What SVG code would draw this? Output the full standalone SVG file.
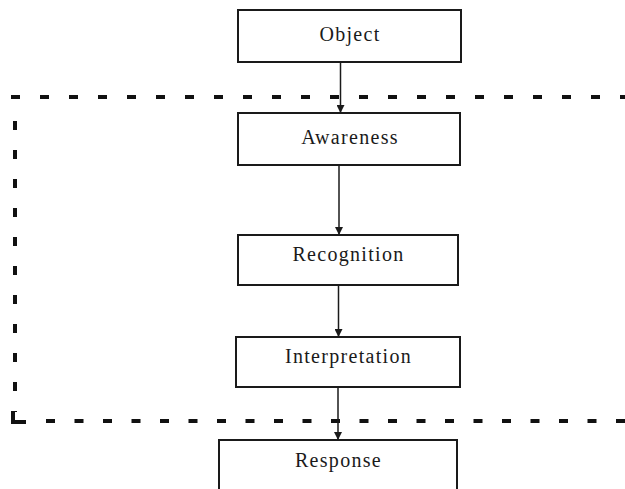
<svg xmlns="http://www.w3.org/2000/svg" width="625" height="489" viewBox="0 0 625 489">
  <style>
    .box { fill: #ffffff; stroke: #1a1a1a; stroke-width: 2; }
    .label { font-family: "Liberation Serif", "DejaVu Serif", serif; font-size: 20px; letter-spacing: 1.3px; fill: #1a1a1a; text-anchor: middle; }
    .edge { stroke: #1a1a1a; stroke-width: 1.5; fill: none; marker-end: url(#arrow); }
    .boundary { stroke: #111111; stroke-width: 4; fill: none; stroke-dasharray: 9 20; }
  </style>
  <defs>
    <marker id="arrow" viewBox="0 0 8 8" refX="8" refY="4" markerWidth="8" markerHeight="8" markerUnits="userSpaceOnUse" orient="auto">
      <path d="M0,0 L8,4 L0,8 Z" fill="#1a1a1a"/>
    </marker>
  </defs>
  <rect width="625" height="489" fill="#ffffff"/>

  <!-- dashed boundary around the perception stages -->
  <g id="boundary">
    <line class="boundary" x1="11" y1="97" x2="625" y2="97"/>
    <line class="boundary" x1="15" y1="121" x2="15" y2="412"/>
    <path d="M13,411 L13,422 L26,422" stroke="#111111" stroke-width="4" fill="none"/>
    <line class="boundary" x1="46" y1="421" x2="625" y2="421" style="stroke-dasharray: 9 19.5"/>
  </g>

  <g id="connectors">
    <line class="edge" x1="340.5" y1="62" x2="340.5" y2="113"/>
    <line class="edge" x1="339" y1="165" x2="339" y2="235"/>
    <line class="edge" x1="338.5" y1="285" x2="338.5" y2="337"/>
    <line class="edge" x1="338" y1="387" x2="338" y2="440"/>
  </g>

  <g id="object">
    <rect class="box" x="238" y="10" width="223" height="52"/>
    <text class="label" x="350" y="41">Object</text>
  </g>
  <g id="awareness">
    <rect class="box" x="238" y="113" width="222" height="52"/>
    <text class="label" x="350" y="144">Awareness</text>
  </g>
  <g id="recognition">
    <rect class="box" x="238" y="235" width="220" height="50"/>
    <text class="label" x="348.5" y="261">Recognition</text>
  </g>
  <g id="interpretation">
    <rect class="box" x="236" y="337" width="224" height="50"/>
    <text class="label" x="348.5" y="363">Interpretation</text>
  </g>
  <g id="response">
    <rect class="box" x="219" y="440" width="238" height="60"/>
    <text class="label" x="338.5" y="467">Response</text>
  </g>
</svg>
